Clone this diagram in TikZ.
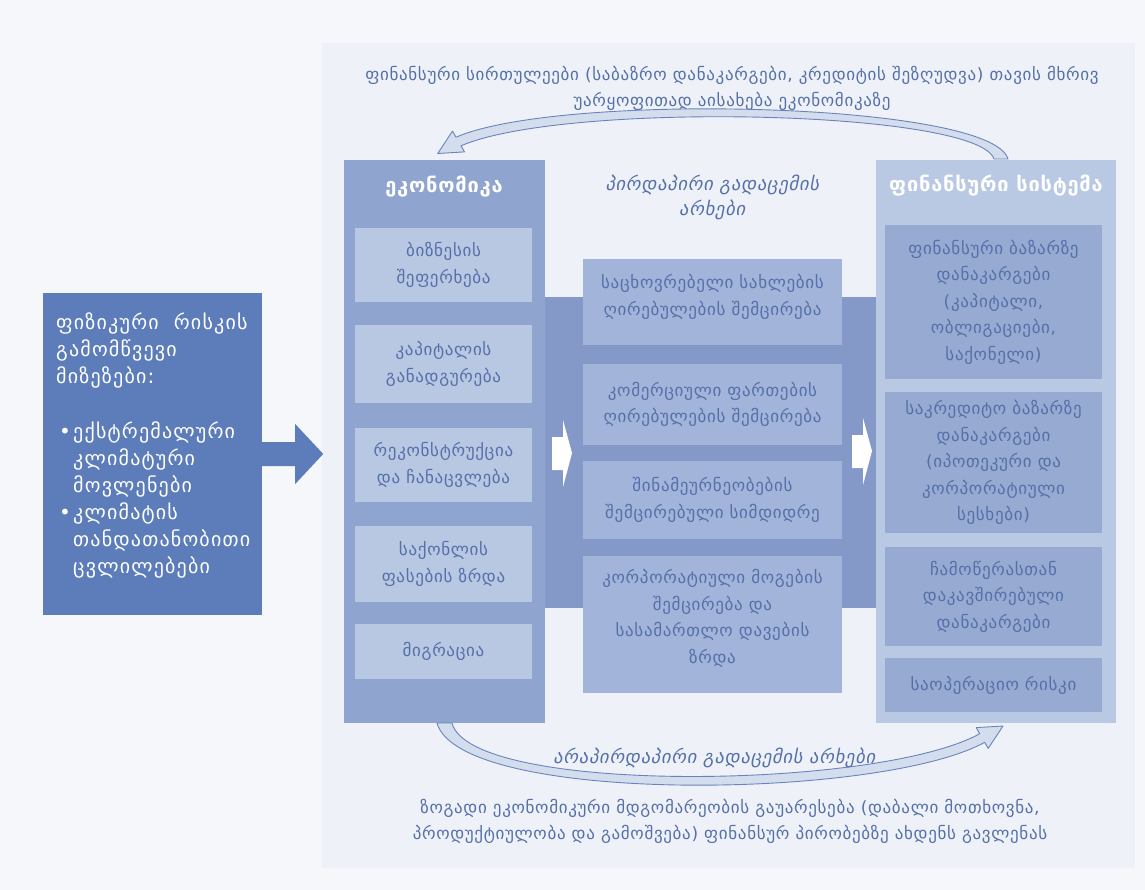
\documentclass[tikz,border=0pt]{standalone}
\usepackage{fontspec}
\setmainfont{DejaVu Sans}
\newfontfamily\geotext{DejaVu Sans}[LetterSpace=4]
\newfontfamily\geoleft{DejaVu Sans}[LetterSpace=6]
\newfontfamily\geohead{DejaVu Sans}[LetterSpace=4]
\newfontfamily\geoit{DejaVu Sans}[FakeSlant=0.2, LetterSpace=4]
\usetikzlibrary{calc}
\definecolor{pagebg}{HTML}{F6F7FA}
\definecolor{panelc}{HTML}{EEF2F8}
\definecolor{leftc}{HTML}{5C7DB9}
\definecolor{econc}{HTML}{8FA5CF}
\definecolor{econitemc}{HTML}{B8C7E2}
\definecolor{bandc}{HTML}{8499C8}
\definecolor{miditemc}{HTML}{A2B4DA}
\definecolor{finc}{HTML}{B9C9E3}
\definecolor{finitemc}{HTML}{96AAD2}
\definecolor{txt}{HTML}{5570A9}
\definecolor{arcline}{HTML}{6A84BB}
\definecolor{arcfill}{HTML}{D3DDEE}
\newcommand{\blt}{\makebox[17pt][l]{\hspace{3pt}•}}
\newcommand{\ind}{\hspace*{17pt}}
\tikzset{
  boxbase/.style={draw=none, inner sep=0pt, align=center, text=txt,
    font=\fontsize{17}{26.5}\geotext},
  econitem/.style={boxbase, fill=econitemc, minimum width=177pt},
  miditem/.style={boxbase, fill=miditemc, minimum width=259pt},
  finitem/.style={boxbase, fill=finitemc, minimum width=217pt},
  colhead/.style={text=white, font=\fontsize{20}{24}\geohead\bfseries, align=center},
  plaintext/.style={text=txt, align=center, font=\fontsize{17}{26}\geotext},
  ittext/.style={text=txt, align=center, font=\fontsize{18.5}{25}\geoit},
  curvedarrow/.style={fill=arcfill, draw=arcline, line width=0.9pt, line join=round},
  chevron/.style={fill=white}
}
\begin{document}
\begin{tikzpicture}[x=1pt,y=-1pt]
\useasboundingbox (0,0) rectangle (1145,890);
\fill[pagebg] (0,0) rectangle (1145,890);
% panel
\node[fill=panelc, minimum width=813pt, minimum height=825pt, inner sep=0pt] (panel) at (728.5,455.5) {};
% columns
\node[fill=econc, minimum width=201pt, minimum height=563pt, inner sep=0pt] (econ) at (444.5,441.5) {};
\node[fill=finc, minimum width=240pt, minimum height=563pt, inner sep=0pt] (fin) at (996,441.5) {};
% band between columns
\node[fill=bandc, minimum width=331pt, minimum height=311pt, inner sep=0pt] (band) at (710.5,452.5) {};
% headers
\node[colhead] (econh) at (444,187) {ეკონომიკა};
\node[colhead] (finh) at (996,186) {ფინანსური სისტემა};
\node[ittext] (midh) at (712,197) {პირდაპირი გადაცემის\\არხები};
% economy items
\node[econitem, minimum height=74pt] (e1) at (443.5,265) {ბიზნესის\\შეფერხება};
\node[econitem, minimum height=78pt] (e2) at (443.5,364) {კაპიტალის\\განადგურება};
\node[econitem, minimum height=74pt] (e3) at (443.5,465) {რეკონსტრუქცია\\და ჩანაცვლება};
\node[econitem, minimum height=76pt] (e4) at (443.5,564) {საქონლის\\ფასების ზრდა};
\node[econitem, minimum height=55pt] (e5) at (443.5,651.5) {მიგრაცია};
% middle items
\node[miditem, minimum height=86pt] (m1) at (712.5,302) {საცხოვრებელი სახლების\\ღირებულების შემცირება\\[-12pt]\mbox{}};
\node[miditem, minimum height=81pt] (m2) at (712.5,404.5) {კომერციული ფართების\\ღირებულების შემცირება};
\node[miditem, minimum height=78pt] (m3) at (712.5,500) {შინამეურნეობების\\შემცირებული სიმდიდრე};
\node[miditem, minimum height=137pt] (m4) at (712.5,624.5) {კორპორატიული მოგების\\შემცირება და\\სასამართლო დავების\\ზრდა\\[-10pt]\mbox{}};
% financial items
\node[finitem, minimum height=154pt] (f1) at (993.5,302) {ფინანსური ბაზარზე\\დანაკარგები\\(კაპიტალი,\\ობლიგაციები,\\საქონელი)};
\node[finitem, minimum height=141pt] (f2) at (993.5,462.5) {საკრედიტო ბაზარზე\\დანაკარგები\\(იპოთეკური და\\კორპორატიული\\სესხები)};
\node[finitem, minimum height=99pt] (f3) at (993.5,596.5) {ჩამოწერასთან\\დაკავშირებული\\დანაკარგები};
\node[finitem, minimum height=54pt] (f4) at (993.5,685) {საოპერაციო რისკი};
% chevrons
\fill[chevron] (552,437) -- (563,437) -- (563,420) -- (572,453) -- (563,487) -- (563,470) -- (552,470) -- cycle;
\fill[chevron] (852,435) -- (863,435) -- (863,418) -- (872,451) -- (863,485) -- (863,468) -- (852,468) -- cycle;
% left box
\node[fill=leftc, minimum width=219pt, minimum height=322pt, inner sep=0pt] (lb) at (152.5,454) {};
\node[anchor=north west, text=white, align=left, inner sep=0pt,
  font=\fontsize{20}{27}\geoleft] (lbt) at (56,313)
  {ფიზიკური \ რისკის\\გამომწვევი\\მიზეზები:\\[28pt]
   \blt ექსტრემალური\\\ind კლიმატური\\\ind მოვლენები\\
   \blt კლიმატის\\\ind თანდათანობითი\\\ind ცვლილებები};
% block arrow from left box
\fill[leftc] ($(lb.east)+(-1,-12)$) -- ++(34,0) -- ++(0,-18) -- ($(lb.east)+(61,0)$)
  -- ($(lb.east)+(33,30)$) -- ++(0,-18) -- ($(lb.east)+(-1,12)$) -- cycle;
% top texts
\node[plaintext] (toptext) at (732,88) {ფინანსური სირთულეები (საბაზრო დანაკარგები, კრედიტის შეზღუდვა) თავის მხრივ\\უარყოფითად აისახება ეკონომიკაზე};
% top curved arrow (from financial system back to economy)
\draw[curvedarrow] (1008,159) .. controls (992,102) and (560,92) .. (456,137.2)
  -- (452.5,131.1) -- (437.7,153.5) -- (464.5,151.9) -- (461,145.8)
  .. controls (565,101) and (978,110) .. (994,159) -- cycle;
% bottom curved arrow (from economy to financial system)
\draw[curvedarrow] (437,723) .. controls (460,805) and (880,800) .. (984.7,742.3)
  -- (988.2,748.4) -- (1003,726) -- (976.2,727.6) -- (979.7,733.7)
  .. controls (878,790) and (470,795) .. (452,723) -- cycle;
\node[ittext] (both) at (714,758) {არაპირდაპირი გადაცემის არხები};
\node[plaintext] (bottext) at (730,821) {ზოგადი ეკონომიკური მდგომარეობის გაუარესება (დაბალი მოთხოვნა,\\პროდუქტიულობა და გამოშვება) ფინანსურ პირობებზე ახდენს გავლენას};
\end{tikzpicture}
\end{document}
